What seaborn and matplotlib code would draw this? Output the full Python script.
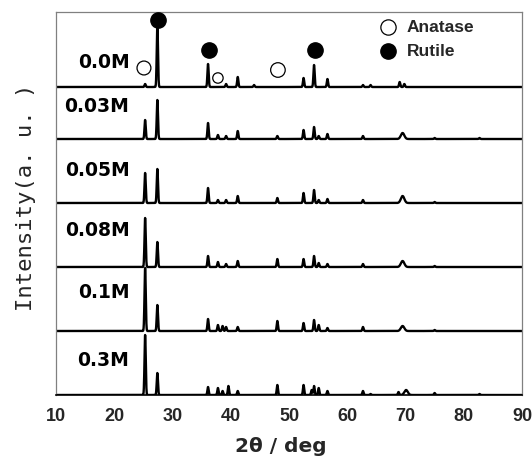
import numpy as np
import pandas as pd
import matplotlib
matplotlib.use("Agg")
import matplotlib.pyplot as plt
import seaborn as sns

# Sample labels (Sn concentration)
samples = ["0.0M", "0.03M", "0.05M", "0.08M", "0.1M", "0.3M"]

# Peak lists per sample: 2theta position (deg) and intensity (a.u.)
peak_pos = {
    "0.0M":  [25.3, 27.4, 36.1, 39.2, 41.2, 44.0, 52.5, 54.3, 56.6, 62.7, 64.0, 69.0, 69.8],
    "0.03M": [25.3, 27.4, 36.1, 37.8, 39.2, 41.2, 48.0, 52.5, 54.3, 55.1, 56.6, 62.7, 69.5, 75.0, 82.7],
    "0.05M": [25.3, 27.4, 36.1, 37.8, 39.2, 41.2, 48.0, 52.5, 54.3, 55.1, 56.6, 62.7, 69.5, 75.0],
    "0.08M": [25.3, 27.4, 36.1, 37.8, 39.2, 41.2, 48.0, 52.5, 54.3, 55.1, 56.6, 62.7, 69.5, 75.0],
    "0.1M":  [25.3, 27.4, 36.1, 37.8, 38.6, 39.2, 41.2, 48.0, 52.5, 54.3, 55.1, 56.6, 62.7, 69.5, 75.0],
    "0.3M":  [25.3, 27.4, 36.1, 37.8, 38.6, 39.6, 41.2, 48.0, 52.5, 53.9, 54.3, 55.1, 56.6, 62.7, 64.0, 68.8, 70.1, 75.0, 82.7],
}
peak_int = {
    "0.0M":  [3, 62, 23, 3, 10, 2, 9, 22, 8, 2, 2, 5, 3],
    "0.03M": [19, 39, 16, 4, 3, 8, 3, 9, 12, 3, 5, 3, 6, 1, 1],
    "0.05M": [30, 34, 15, 3, 3, 7, 5, 10, 13, 3, 4, 3, 7, 1],
    "0.08M": [49, 25, 11, 5, 3, 6, 8, 8, 11, 4, 3, 3, 6, 1],
    "0.1M":  [63, 26, 12, 6, 5, 4, 4, 10, 8, 11, 6, 3, 4, 5, 1],
    "0.3M":  [60, 22, 8, 7, 4, 9, 4, 10, 10, 5, 9, 7, 4, 4, 1, 3, 5, 2, 1],
}
broad_peaks = {69.5: 0.7, 70.1: 0.7}

# Vertical offset of each trace and its label height
offsets = {"0.0M": 308, "0.03M": 256, "0.05M": 192, "0.08M": 128, "0.1M": 64, "0.3M": 0}
label_y = {"0.0M": 333, "0.03M": 289, "0.05M": 224, "0.08M": 164, "0.1M": 102, "0.3M": 35}

# Phase reference peaks marked on the top trace
anatase_marks = [25.1, 37.8, 48.1]
rutile_marks = [27.5, 36.2, 54.4]

two_theta = np.arange(10.0, 90.0001, 0.02)

frames = []
for s in samples:
    y = np.zeros_like(two_theta)
    for p, h in zip(peak_pos[s], peak_int[s]):
        w = broad_peaks.get(p, 0.25)
        y += h * np.exp(-4 * np.log(2) * ((two_theta - p) / w) ** 2)
    frames.append(pd.DataFrame({"two_theta": two_theta,
                                "intensity": y + offsets[s],
                                "sample": s}))
df = pd.concat(frames, ignore_index=True)

sns.set_theme(style="white")
plt.rcParams["font.family"] = ["DejaVu Sans"]

fig = plt.figure(figsize=(5.32, 4.61), dpi=100)
ax = fig.add_axes([56 / 532, 66 / 461, 466 / 532, 383 / 461])

for s in samples:
    sns.lineplot(data=df[df["sample"] == s], x="two_theta", y="intensity",
                 ax=ax, color="black", linewidth=1.7, legend=False)
    ax.text(22.6, label_y[s], s, ha="right", va="center",
            fontsize=13.5, fontweight="bold", color="black")

# Phase markers above the 0.0M trace
ax.scatter(anatase_marks, [327, 317, 325], s=[100, 56, 110],
           facecolors="white", edgecolors="black", linewidths=0.9, zorder=5)
ax.scatter(rutile_marks, [375, 345, 345], s=121, color="black", zorder=5)

# Legend
ax.scatter([67.0], [368], s=121, facecolors="white", edgecolors="black",
           linewidths=0.9, zorder=5)
ax.scatter([67.0], [344], s=121, color="black", zorder=5)
ax.text(70.2, 368, "Anatase", ha="left", va="center", fontsize=12.5,
        fontweight="bold", family="Liberation Sans")
ax.text(70.2, 344, "Rutile", ha="left", va="center", fontsize=12.5,
        fontweight="bold", family="Liberation Sans")

ax.set_xlim(10, 90)
ax.set_ylim(0, 383)
ax.set_xticks(np.arange(10, 91, 10))
ax.set_yticks([])
ax.set_xlabel("")
ax.set_ylabel("")
ax.tick_params(axis="x", length=0, pad=9, labelsize=13)
for lab in ax.get_xticklabels():
    lab.set_fontweight("bold")
    lab.set_family("Liberation Sans")

for side in ["left", "top", "right"]:
    ax.spines[side].set_color("#808080")
    ax.spines[side].set_linewidth(0.9)
ax.spines["bottom"].set_color("black")
ax.spines["bottom"].set_linewidth(1.2)

fig.text(281 / 532, (461 - 446) / 461, "2θ / deg", ha="center", va="center",
         fontsize=14.5, fontweight="bold")
fig.text(26 / 532, (461 - 197) / 461, "Intensity(a. u. )", rotation=90,
         ha="center", va="center", fontsize=16, family="DejaVu Sans Mono")

fig.savefig("out.png", dpi=100)
